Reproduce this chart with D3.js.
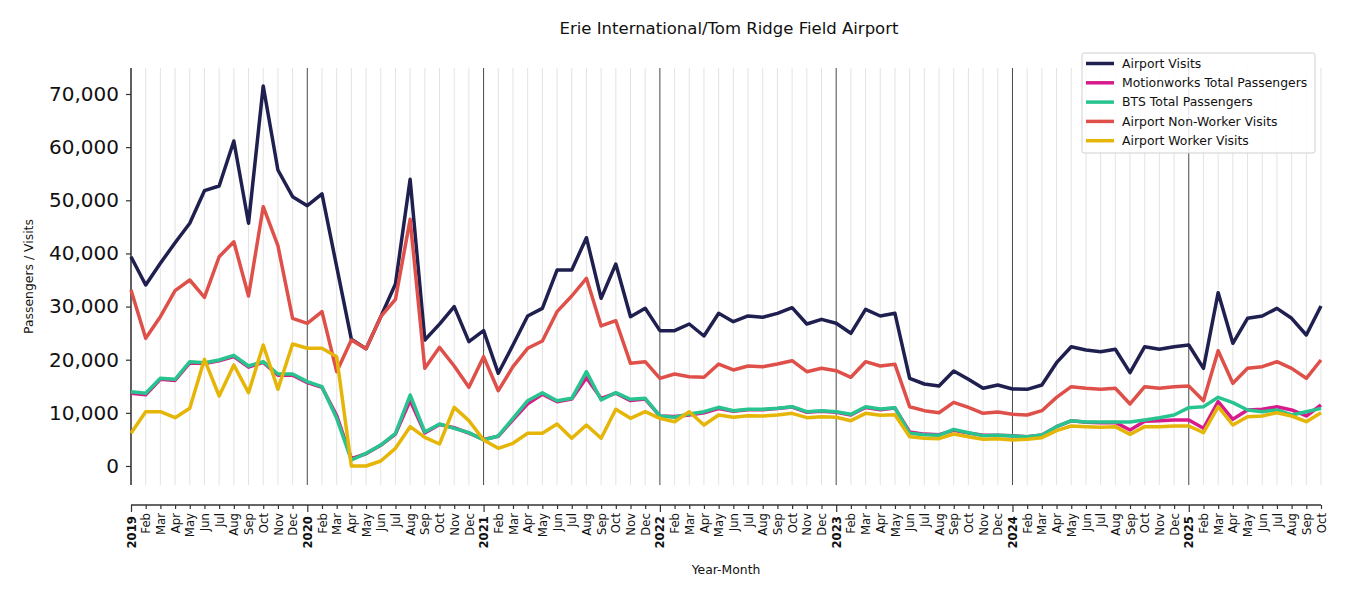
<!DOCTYPE html>
<html>
<head>
<meta charset="utf-8">
<script src="https://cdn.jsdelivr.net/npm/d3@7"></script>
<style>
  body { margin: 0; background: #fff; }
  svg { font-family: "DejaVu Sans", sans-serif; }
</style>
</head>
<body>
<script>
// months Jan 2019 .. Oct 2025
var years = ["2019", "2020", "2021", "2022", "2023", "2024", "2025"];
var month_names = ["Jan", "Feb", "Mar", "Apr", "May", "Jun", "Jul", "Aug", "Sep", "Oct", "Nov", "Dec"];

var airport_visits = [
  39380, 34060, 38140, 42020, 45670, 51810, 52690, 61160, 45670, 71510, 55700, 50680,
  48990, 51190, 37510, 23840, 22080, 28100, 34250, 53950, 23710, 26700, 29980, 23400,
  25470, 17440, 22770, 28230, 29670, 36880, 36880, 42960, 31550, 38010, 28100, 29670,
  25470, 25470, 26720, 24460, 28730, 27160, 28230, 27980, 28730, 29790, 26720, 27600,
  26850, 24970, 29480, 28230, 28730, 16500, 15430, 15050, 17880, 16310, 14620, 15240,
  14490, 14430, 15240, 19440, 22450, 21830, 21510, 21960, 17560, 22450, 21960, 22450,
  22770, 18380, 32610, 23090, 27790, 28230, 29670, 27790, 24650, 30110
];
var motionworks_total = [
  13700, 13400, 16300, 16100, 19400, 19300, 19800, 20600, 18600, 19500, 17100, 17100,
  15700, 14800, 9500, 1400, 2300, 3900, 6000, 12300, 6200, 7800, 7200, 6200,
  5000, 5600, 8700, 11700, 13500, 12100, 12600, 16600, 12700, 13700, 12300, 12600,
  9400, 9300, 9600, 10000, 10800, 10300, 10600, 10600, 10800, 11100, 10100, 10300,
  10100, 9600, 11000, 10600, 10900, 6400, 6000, 5900, 6700, 6200, 5800, 5800,
  5700, 5520, 5830, 7400, 8500, 8220, 8150, 8200, 6770, 8400, 8500, 8660,
  8660, 7090, 12100, 8780, 10540, 10670, 11160, 10540, 9410, 11480
];
var bts_total = [
  13990, 13680, 16500, 16310, 19630, 19440, 19950, 20830, 18820, 19630, 17310, 17310,
  15870, 14930, 8970, 1130, 2380, 3950, 6150, 13360, 6400, 7900, 7090, 6270,
  4890, 5650, 8970, 12290, 13800, 12290, 12730, 17750, 12420, 13800, 12540, 12730,
  9410, 9160, 9790, 10220, 11040, 10410, 10670, 10670, 10850, 11160, 10220, 10410,
  10220, 9720, 11160, 10730, 10980, 6150, 5900, 5770, 6900, 6270, 5710, 5770,
  5650, 5520, 5830, 7400, 8530, 8280, 8280, 8280, 8280, 8660, 9090, 9600,
  10980, 11160, 12920, 11920, 10540, 10220, 10540, 9600, 10220, 10850
];
var non_worker_visits = [
  33120, 24020, 28100, 32990, 35000, 31740, 39380, 42200, 31990, 48800, 41450, 27790,
  26850, 29040, 17750, 23710, 22080, 28100, 31360, 46420, 18380, 22330, 18820, 14800,
  20570, 14170, 18690, 22150, 23520, 29040, 31990, 35320, 26350, 27340, 19320, 19630,
  16500, 17310, 16810, 16690, 19190, 18070, 18820, 18690, 19190, 19820, 17750, 18380,
  17940, 16690, 19630, 18820, 19130, 11160, 10410, 10030, 11980, 11040, 9910, 10160,
  9720, 9600, 10410, 12920, 14930, 14620, 14430, 14620, 11670, 14930, 14620, 14930,
  15050, 12290, 21700, 15560, 18380, 18690, 19630, 18380, 16500, 19950
];
var worker_visits = [
  6150, 10220, 10220, 9090, 10850, 20070, 13170, 19000, 13800, 22770, 14430, 22960,
  22150, 22150, 20570, 0, 0, 940, 3330, 7400, 5400, 4140, 11040, 8530,
  4890, 3330, 4270, 6150, 6150, 7900, 5210, 7720, 5210, 10670, 8970, 10220,
  8970, 8340, 10220, 7720, 9600, 9160, 9470, 9410, 9600, 9910, 9090, 9280,
  9160, 8530, 9910, 9540, 9660, 5520, 5210, 5140, 6020, 5520, 5020, 5140,
  4890, 5020, 5330, 6650, 7530, 7400, 7280, 7400, 5960, 7400, 7400, 7530,
  7530, 6270, 11160, 7720, 9280, 9410, 10030, 9410, 8340, 10030
];
var y_ticks = [0, 10000, 20000, 30000, 40000, 50000, 60000, 70000];

var series = [
  {name: "Airport Visits", values: airport_visits, color: "#1f1f50"},
  {name: "Motionworks Total Passengers", values: motionworks_total, color: "#d81b8c"},
  {name: "BTS Total Passengers", values: bts_total, color: "#27c48f"},
  {name: "Airport Non-Worker Visits", values: non_worker_visits, color: "#de5049"},
  {name: "Airport Worker Visits", values: worker_visits, color: "#e5b508"}
];

// month labels: january shows the year
var labels = [];
years.forEach(function(yr) {
  month_names.forEach(function(m, i) { labels.push(i == 0 ? yr : m); });
});
labels = labels.slice(0, airport_visits.length);

var w = 1350, h = 600;
var plot_left = 131, plot_right = 1321, plot_top = 68, plot_bottom = 485;
var x_axis_y = 505;

var svg = d3.select("body").append("svg").attr("width", w).attr("height", h);

var x = d3.scaleLinear().domain([0, labels.length - 1]).range([plot_left, plot_right]);
var y = d3.scaleLinear().domain([-3575, 74892]).range([plot_bottom, plot_top]);

// vertical month gridlines, darker at each january
svg.append("g").selectAll("line")
  .data(d3.range(labels.length))
  .enter().append("line")
  .attr("x1", function(d) { return x(d); }).attr("x2", function(d) { return x(d); })
  .attr("y1", plot_top).attr("y2", plot_bottom)
  .attr("stroke", function(d) { return d % 12 == 0 ? "#333" : "#e0e0e0"; })
  .attr("stroke-width", 0.9);

// y axis
var yAxis = svg.append("g")
  .attr("transform", "translate(" + plot_left + ",0)")
  .call(d3.axisLeft(y).tickValues(y_ticks).tickSize(5).tickPadding(7)
    .tickFormat(d3.format(",")));
yAxis.select(".domain").attr("stroke", "#333").attr("stroke-width", 1.2)
  .attr("d", "M0," + plot_top + "V" + plot_bottom);
yAxis.selectAll(".tick line").attr("stroke", "#333").attr("stroke-width", 1.2);
yAxis.selectAll(".tick text").attr("font-size", 20).attr("fill", "#111")
  .attr("font-family", "DejaVu Sans");

// x axis (offset below the plot)
var xAxis = svg.append("g")
  .attr("transform", "translate(0," + x_axis_y + ")")
  .call(d3.axisBottom(x).tickValues(d3.range(labels.length))
    .tickFormat(function(d) { return labels[d]; }).tickSizeOuter(0));
xAxis.select(".domain").attr("stroke", "#333").attr("stroke-width", 1.4)
  .attr("d", "M" + plot_left + ",0H" + plot_right);
xAxis.selectAll(".tick line").attr("stroke", "#333").attr("stroke-width", 1.2)
  .attr("y2", function(d) { return d % 12 == 0 ? 7 : 4; });
xAxis.selectAll(".tick text")
  .attr("font-size", 11.7).attr("fill", "#111").attr("font-family", "DejaVu Sans")
  .attr("font-weight", function(d) { return d % 12 == 0 ? "bold" : "normal"; })
  .attr("text-anchor", "end")
  .attr("dy", "0.35em").attr("y", 0)
  .attr("transform", function(d) { return "translate(0," + (d % 12 == 0 ? 11 : 8) + ") rotate(-90)"; });

// lines
var line = d3.line()
  .x(function(d, i) { return x(i); })
  .y(function(d) { return y(d); });

svg.append("g").selectAll("path")
  .data(series)
  .enter().append("path")
  .attr("d", function(s) { return line(s.values); })
  .attr("fill", "none")
  .attr("stroke", function(s) { return s.color; })
  .attr("stroke-width", 3.5)
  .attr("stroke-linejoin", "round");

// title and axis labels
svg.append("text").attr("x", (plot_left + plot_right) / 2 + 3).attr("y", 34)
  .attr("text-anchor", "middle").attr("font-size", 16.5).attr("fill", "#111")
  .text("Erie International/Tom Ridge Field Airport");
svg.append("text").attr("x", (plot_left + plot_right) / 2).attr("y", 574)
  .attr("text-anchor", "middle").attr("font-size", 12.4).attr("fill", "#111")
  .text("Year-Month");
svg.append("text")
  .attr("transform", "translate(33," + ((plot_top + plot_bottom) / 2) + ") rotate(-90)")
  .attr("text-anchor", "middle").attr("font-size", 12.4).attr("fill", "#111")
  .text("Passengers / Visits");

// legend
var legend = svg.append("g").attr("transform", "translate(1082,53)");
legend.append("rect").attr("x", 0).attr("y", 0).attr("width", 233).attr("height", 100)
  .attr("rx", 2).attr("fill", "rgba(255,255,255,0.85)").attr("stroke", "#d0d0d0").attr("stroke-width", 1);
var rows = legend.selectAll("g.row").data(series).enter().append("g")
  .attr("class", "row")
  .attr("transform", function(s, i) { return "translate(0," + (10.5 + i * 19.3) + ")"; });
rows.append("line").attr("x1", 4).attr("x2", 32).attr("y1", 0).attr("y2", 0)
  .attr("stroke", function(s) { return s.color; }).attr("stroke-width", 3.5);
rows.append("text").attr("x", 40).attr("y", 0).attr("dy", "0.35em")
  .attr("font-size", 12.4).attr("fill", "#111")
  .text(function(s) { return s.name; });
</script>
</body>
</html>
